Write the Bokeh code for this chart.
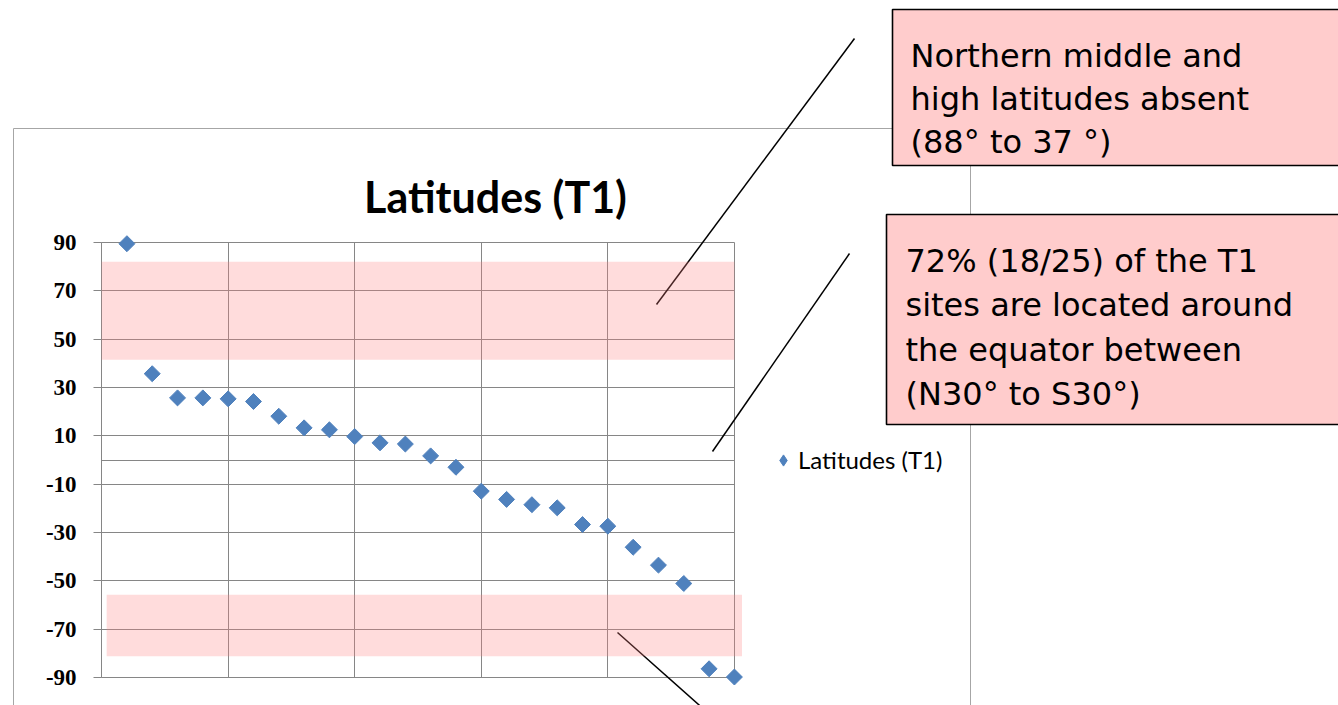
from math import pi, nan
from bokeh.plotting import figure
from bokeh.models import (Range1d, FixedTicker, Grid, LinearAxis, BoxAnnotation,
                          Label, Arrow, Legend, LegendItem)
from bokeh.embed import file_html
from bokeh.resources import INLINE

# ---------------- data ----------------
site_index = list(range(1, 26))
latitudes = [89.5, 35.7, 25.7, 25.7, 25.3, 24.2, 18.1, 13.3, 12.5, 9.7,
             7.1, 6.6, 1.7, -3.0, -12.9, -16.3, -18.5, -19.8, -26.7, -27.4,
             -36.1, -43.5, -51.1, -86.4, -89.8]
y_ticks = [-90, -70, -50, -30, -10, 10, 30, 50, 70, 90]
y_tick_labels = ["-90", "-70", "-50", "-30", "-10", "10", "30", "50", "70", "90"]
x_grid_ticks = [0, 5, 10, 15, 20, 25]
x_axis_crossing = [0]
x_limits = [0, 25]
y_limits = [-90, 90]
chart_title = "Latitudes (T1)"
series_name = "Latitudes (T1)"
north_band = [41.5, 82.0]
south_band = [-81.2, -55.8]
note1_lines = ["Northern middle and", "high latitudes absent", "(88° to 37 °)"]
note2_lines = ["72% (18/25) of the T1", "sites are located around",
               "the equator between", "(N30° to S30°)"]

# ---------------- layout (pixels) ----------------
W, H = 1338, 705
PL, PR, PT, PB = 101.1, 733.9, 242.0, 677.0   # plot-area box on the canvas
GRID = "#868686"
BLUE = "#4F81BD"

xs = (PR - PL) / (x_limits[1] - x_limits[0])
ys = (PB - PT) / (y_limits[1] - y_limits[0])
x_range = Range1d(x_limits[0] - PL / xs, x_limits[1] + (W - PR) / xs)
y_range = Range1d(y_limits[0] - (H - PB) / ys, y_limits[1] + PT / ys)

p = figure(width=W, height=H, output_backend="svg", toolbar_location=None,
           x_range=x_range, y_range=y_range,
           x_axis_location=None, y_axis_location=None,
           min_border=0, min_border_left=0, min_border_right=0,
           min_border_top=0, min_border_bottom=0, outline_line_color=None,
           background_fill_color="white", border_fill_color="white")
# drop the default grids; the chart's own grids are added below
p.center = [c for c in p.center if not isinstance(c, Grid)]

# outer chart border (screen units: from canvas bottom-left)
p.add_layout(BoxAnnotation(left=13, right=970, top=577, bottom=-10,
                           left_units="screen", right_units="screen",
                           top_units="screen", bottom_units="screen",
                           fill_color=None, line_color="#a6a6a6", line_alpha=1.0,
                           line_width=1, level="underlay"))

p.add_layout(Grid(dimension=1, ticker=FixedTicker(ticks=y_ticks + x_axis_crossing),
                  cross_bounds=(x_limits[0], x_limits[1]), grid_line_color=GRID,
                  grid_line_width=1))
p.add_layout(Grid(dimension=0, ticker=FixedTicker(ticks=x_grid_ticks),
                  cross_bounds=(y_limits[0], y_limits[1]), grid_line_color=GRID,
                  grid_line_width=1))

# axis at x = 0
yaxis = LinearAxis(ticker=FixedTicker(ticks=y_ticks), fixed_location=x_limits[0],
                   bounds=(y_limits[0], y_limits[1]),
                   major_label_overrides=dict(zip(y_ticks, y_tick_labels)),
                   axis_line_color=GRID, major_tick_line_color=GRID,
                   major_tick_out=8, major_tick_in=0, minor_tick_line_color=None,
                   major_label_standoff=17,
                   major_label_text_font="Liberation Serif",
                   major_label_text_font_style="bold",
                   major_label_text_font_size="23px",
                   major_label_text_color="#000000")
p.add_layout(yaxis, "left")

r = p.scatter(site_index, latitudes, marker="square", angle=pi / 4, size=11.3,
              fill_color=BLUE, line_color=BLUE)
# legend swatch (legends draw markers unrotated, so use a diamond marker; no visible point)
swatch = p.scatter(x=[nan], y=[nan], marker="diamond", fill_color=BLUE, line_color=BLUE)

# leader lines
for (x0, y0, x1, y1) in [(854, 667, 656, 401), (849, 452, 712, 254), (617, 73, 707, -7)]:
    p.add_layout(Arrow(end=None, x_start=x0, y_start=y0, x_end=x1, y_end=y1,
                       start_units="screen", end_units="screen",
                       line_color="black", line_width=1.5))

# highlight bands
p.add_layout(BoxAnnotation(left=0, right=25, bottom=north_band[0], top=north_band[1],
                           fill_color="#FF8080", fill_alpha=0.28, line_color=None))
p.add_layout(BoxAnnotation(left=0.2, right=25.3, bottom=south_band[0], top=south_band[1],
                           fill_color="#FF8080", fill_alpha=0.28, line_color=None))

# title
p.add_layout(Label(x=495, y=509, x_units="screen", y_units="screen", text=chart_title,
                   text_align="center", text_baseline="alphabetic",
                   text_font="Lato", text_font_style="bold", text_font_size="43px",
                   text_color="#000000"))

# note boxes
for (l, rgt, t, b) in [(892, 1360, 696, 540), (886, 1360, 491, 281)]:
    p.add_layout(BoxAnnotation(left=l, right=rgt, top=t, bottom=b,
                               left_units="screen", right_units="screen",
                               top_units="screen", bottom_units="screen",
                               fill_color="#FFCCCC", fill_alpha=1.0,
                               line_color="black", line_alpha=1.0, line_width=1.6))

for i, line in enumerate(note1_lines):
    p.add_layout(Label(x=910, y=650 - i * 43.3, x_units="screen", y_units="screen",
                       text=line, text_align="left", text_baseline="alphabetic",
                       text_font="DejaVu Sans", text_font_size="32px", text_color="#000000"))
for i, line in enumerate(note2_lines):
    p.add_layout(Label(x=905, y=445 - i * 44.5, x_units="screen", y_units="screen",
                       text=line, text_align="left", text_baseline="alphabetic",
                       text_font="DejaVu Sans", text_font_size="32px", text_color="#000000"))

legend = Legend(items=[LegendItem(label=series_name, renderers=[swatch])],
                location=(769, 231), padding=0, margin=0, spacing=0,
                glyph_width=28, glyph_height=28, label_height=28, label_standoff=1,
                background_fill_alpha=0, border_line_color=None,
                label_text_font="Lato", label_text_font_size="24px",
                label_text_color="#000000")
p.add_layout(legend, "center")

open("out.html", "w").write(file_html(p, INLINE))
